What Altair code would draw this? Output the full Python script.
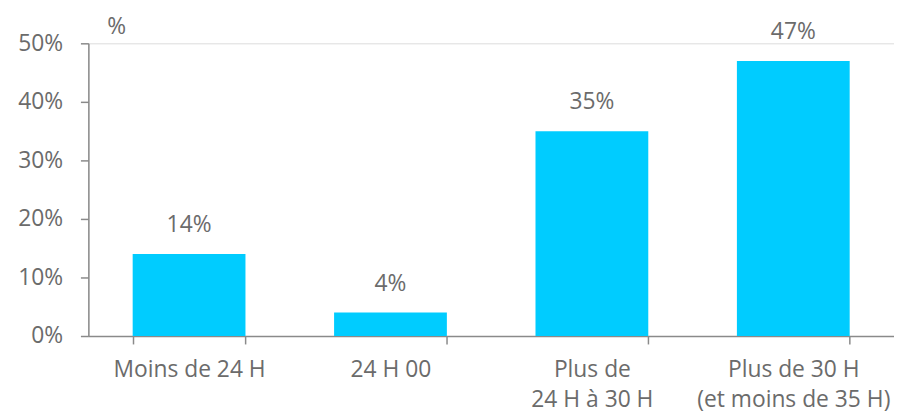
import altair as alt
import pandas as pd

categories = ["Moins de 24 H", "24 H 00", "Plus de|24 H à 30 H", "Plus de 30 H|(et moins de 35 H)"]
values = [14, 4, 35, 47]
value_labels = ["14%", "4%", "35%", "47%"]

df = pd.DataFrame({"cat": categories, "val": values, "lab": value_labels})

FONT = "Open Sans"
FS = 23
TXT = "#6b6b6b"
AX = "#8a8a8a"

x = alt.X("cat:N", sort=categories,
          scale=alt.Scale(paddingInner=0.44, paddingOuter=0.22),
          axis=alt.Axis(title=None, labelAngle=0, labelExpr="split(datum.label, '|')",
                        labelLineHeight=30, labelPadding=15, labelLimit=0, tickBand="extent",
                        tickSize=8, domainColor=AX, tickColor=AX, domainWidth=1.5,
                        tickWidth=1.5, labelColor=TXT,
                        labelFont=FONT, labelFontSize=FS, labelBaseline="top",
                        grid=False))
y = alt.Y("val:Q", scale=alt.Scale(domain=[0, 50]),
          axis=alt.Axis(values=[0, 10, 20, 30, 40, 50], labelExpr="datum.value + '%'",
                        title="%", titleAngle=0, titleX=28, titleY=-17,
                        titleAlign="center", titleBaseline="middle",
                        titleFont=FONT, titleFontSize=FS, titleFontWeight="normal",
                        titleColor=TXT, labelColor=TXT, labelFont=FONT,
                        labelFontSize=FS, labelPadding=18, tickSize=8,
                        domainWidth=1.5, tickWidth=1.5,
                        domainColor=AX, tickColor=AX, grid=False))

bars = alt.Chart(df).mark_bar(color="#00CCFF").encode(x=x, y=y)
text = alt.Chart(df).mark_text(dy=-22, baseline="alphabetic", font=FONT, fontSize=FS,
                               color=TXT).encode(x=alt.X("cat:N", sort=categories), y="val:Q", text="lab:N")

chart = (bars + text).properties(
    width=812, height=295,
    autosize=alt.AutoSizeParams(type="none"),
    padding={"left": 81, "top": 34, "right": 0, "bottom": 76},
).configure_view(stroke=None).configure(background="white")

chart.save("out.html", embed_options={"renderer": "svg", "actions": False})
